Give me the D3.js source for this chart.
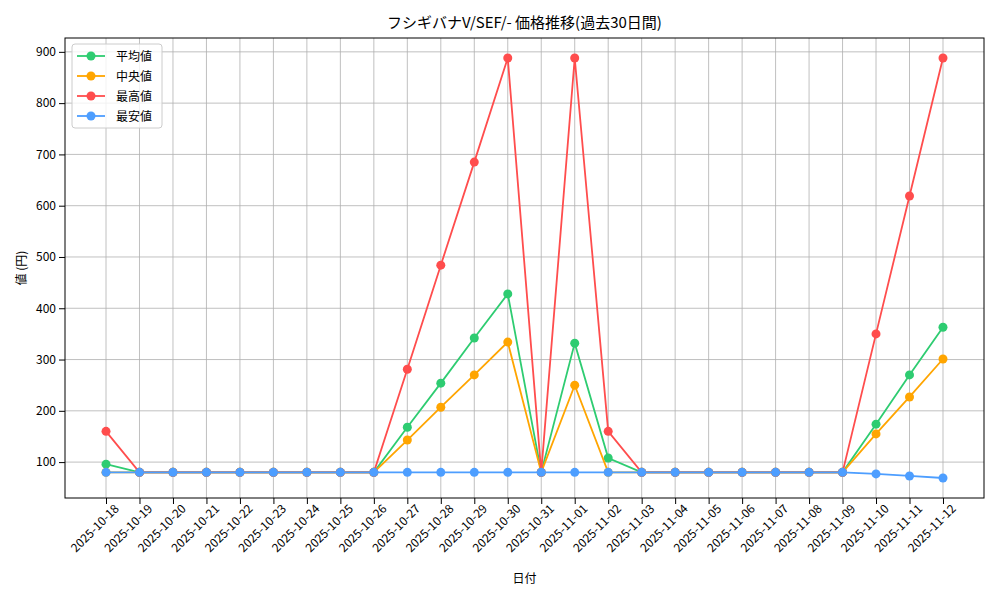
<!DOCTYPE html>
<html><head><meta charset="utf-8">
<script src="https://cdn.jsdelivr.net/npm/d3@7"></script>
<style>body{margin:0;background:#fff}text{font-family:"Noto Sans CJK JP",sans-serif}</style>
</head><body><svg id="c" width="1000" height="600"></svg>
<script>
const dates=["2025-10-18","2025-10-19","2025-10-20","2025-10-21","2025-10-22","2025-10-23","2025-10-24","2025-10-25","2025-10-26","2025-10-27","2025-10-28","2025-10-29","2025-10-30","2025-10-31","2025-11-01","2025-11-02","2025-11-03","2025-11-04","2025-11-05","2025-11-06","2025-11-07","2025-11-08","2025-11-09","2025-11-10","2025-11-11","2025-11-12"];
const meanVals=[96,80,80,80,80,80,80,80,80,168,254,342,428,80,332,108,80,80,80,80,80,80,80,174,270,363];
const medianVals=[80,80,80,80,80,80,80,80,80,143,207,270,334,80,250,80,80,80,80,80,80,80,80,155,227,301];
const maxVals=[160,80,80,80,80,80,80,80,80,281,484,685,888,80,888,160,80,80,80,80,80,80,80,350,619,888];
const minVals=[80,80,80,80,80,80,80,80,80,80,80,80,80,80,80,80,80,80,80,80,80,80,80,77,73,69];
const yTicks=[100,200,300,400,500,600,700,800,900];
const series=[["平均値",meanVals,"#2ecc71"],["中央値",medianVals,"#ffa500"],["最高値",maxVals,"#ff4d4d"],["最安値",minVals,"#4d9eff"]];
const L=65,R=984,T=38,B=498;
const svg=d3.select("#c");
const x=d3.scaleLinear().domain([-1.225,dates.length-1+1.225]).range([L,R]);
const y=d3.scaleLinear().domain([30,927]).range([B,T]);
const g=svg.append("g");
g.selectAll(".vg").data(dates).enter().append("line").attr("x1",(d,i)=>x(i)).attr("x2",(d,i)=>x(i)).attr("y1",T).attr("y2",B).attr("stroke","#b0b0b0").attr("stroke-width",0.8);
g.selectAll(".hg").data(yTicks).enter().append("line").attr("x1",L).attr("x2",R).attr("y1",d=>y(d)).attr("y2",d=>y(d)).attr("stroke","#b0b0b0").attr("stroke-width",0.8);
const xa=svg.append("g").attr("transform",`translate(0,${B})`).call(d3.axisBottom(x).tickValues(d3.range(dates.length)).tickFormat(i=>dates[i]).tickSizeOuter(0));
xa.selectAll("text").attr("transform","rotate(-45)").attr("text-anchor","end").attr("dx","0.1em").attr("dy","0.7em").style("font-size","12px").attr("fill","#000");
xa.select(".domain").remove();
const ya=svg.append("g").attr("transform",`translate(${L},0)`).call(d3.axisLeft(y).tickValues(yTicks).tickSizeOuter(0));
ya.selectAll("text").style("font-size","12px").attr("fill","#000");
ya.select(".domain").remove();
svg.append("rect").attr("x",L).attr("y",T).attr("width",R-L).attr("height",B-T).attr("fill","none").attr("stroke","#000").attr("stroke-width",1);
const line=d3.line().x((d,i)=>x(i)).y(d=>y(d));
series.forEach(([n,v,c])=>{
  svg.append("path").datum(v).attr("d",line).attr("fill","none").attr("stroke",c).attr("stroke-width",1.8);
  svg.selectAll(null).data(v).enter().append("circle").attr("cx",(d,i)=>x(i)).attr("cy",d=>y(d)).attr("r",4.5).attr("fill",c);
});
svg.append("text").attr("x",(L+R)/2).attr("y",28).attr("text-anchor","middle").style("font-size","15px").text("フシギバナV/SEF/- 価格推移(過去30日間)");
svg.append("text").attr("x",(L+R)/2).attr("y",583).attr("text-anchor","middle").style("font-size","12px").text("日付");
svg.append("text").attr("transform",`translate(26,${(T+B)/2}) rotate(-90)`).attr("text-anchor","middle").style("font-size","12px").text("値 (円)");
const lg=svg.append("g").attr("transform","translate(72,44)");
lg.append("rect").attr("width",90).attr("height",84).attr("rx",3).attr("fill","#fff").attr("fill-opacity",0.8).attr("stroke","#ccc");
series.forEach(([n,v,c],i)=>{
  const yy=12+i*20;
  lg.append("line").attr("x1",5).attr("x2",33).attr("y1",yy).attr("y2",yy).attr("stroke",c).attr("stroke-width",1.8);
  lg.append("circle").attr("cx",19).attr("cy",yy).attr("r",4.5).attr("fill",c);
  lg.append("text").attr("x",44).attr("y",yy+4.5).style("font-size","12px").text(n);
});
</script></body></html>
